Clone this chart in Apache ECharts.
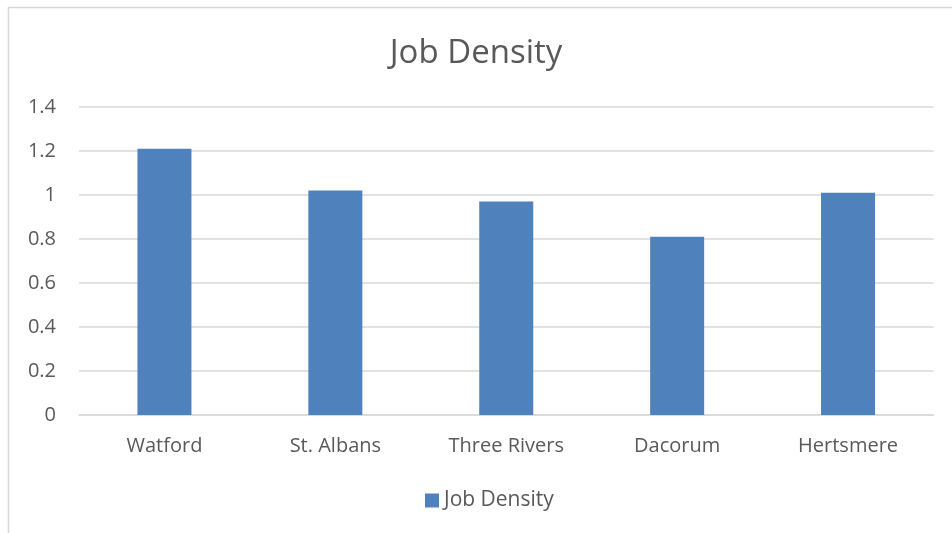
<!DOCTYPE html>
<html><head><meta charset="utf-8">
<script src="https://cdn.jsdelivr.net/npm/echarts@6/dist/echarts.min.js"></script>
<style>html,body{margin:0;padding:0;background:#fff}#c{width:952px;height:533px}</style>
</head><body><div id="c"></div>
<script>
const categories = ['Watford', 'St. Albans', 'Three Rivers', 'Dacorum', 'Hertsmere'];
const jobDensity = [1.21, 1.02, 0.97, 0.81, 1.01];
const seriesName = 'Job Density';
const chart = echarts.init(document.getElementById('c'));
const font = 'Open Sans';
chart.setOption({
  animation: false,
  title: { text: 'Job Density', left: 'center', top: 32, textStyle: { fontFamily: font, fontSize: 33, fontWeight: 'normal', color: '#595959' } },
  graphic: [{ type: 'rect', shape: { x: 8.5, y: 7.5, width: 960, height: 540 }, style: { fill: 'none', stroke: '#d9d9d9', lineWidth: 1.5 }, silent: true }],
  legend: { bottom: 17, left: 420, itemWidth: 14, itemHeight: 14, icon: 'rect', itemGap: 5, textStyle: { fontFamily: font, fontSize: 21, color: '#595959' } },
  grid: { left: 79, right: 18.5, top: 107, bottom: 118 },
  xAxis: { type: 'category', data: categories,
    axisLine: { lineStyle: { color: '#d9d9d9', width: 1.5 } }, axisTick: { show: false },
    axisLabel: { fontFamily: font, fontSize: 20, color: '#595959', margin: 21 } },
  yAxis: { type: 'value', min: 0, max: 1.4, interval: 0.2,
    axisLine: { show: false }, axisTick: { show: false },
    splitLine: { lineStyle: { color: '#d9d9d9', width: 1.5 } },
    axisLabel: { fontFamily: font, fontSize: 20, color: '#595959', margin: 23, formatter: v => String(Math.round(v*10)/10) } },
  series: [{ name: seriesName, type: 'bar', data: jobDensity, barWidth: '31.6%', itemStyle: { color: '#4F81BD' } }]
});
</script></body></html>
